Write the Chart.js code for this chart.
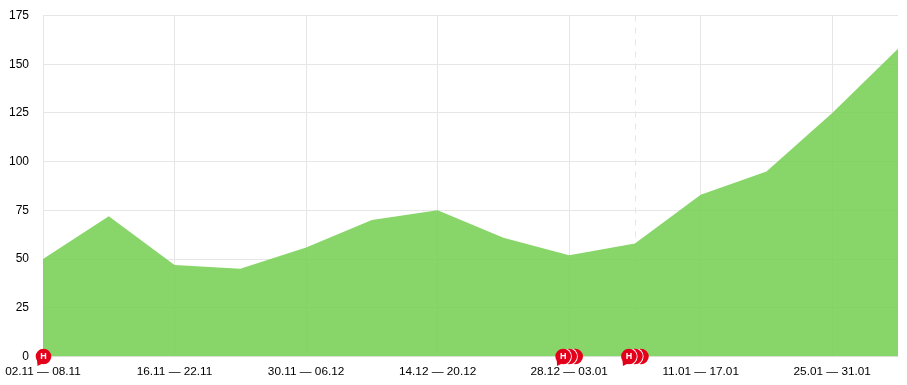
<!DOCTYPE html>
<html>
<head>
<meta charset="utf-8">
<style>
  html, body { margin: 0; padding: 0; background: #fff; }
  #wrap { width: 907px; height: 385px; }
</style>
<script src="https://cdn.jsdelivr.net/npm/chart.js@4"></script>
</head>
<body>
<div id="wrap"><canvas id="chart"></canvas></div>
<script>
const weeks = ['02.11 — 08.11', '09.11 — 15.11', '16.11 — 22.11', '23.11 — 29.11', '30.11 — 06.12',
    '07.12 — 13.12', '14.12 — 20.12', '21.12 — 27.12', '28.12 — 03.01', '04.01 — 10.01',
    '11.01 — 17.01', '18.01 — 24.01', '25.01 — 31.01', '01.02 — 07.02'];
const values = [50, 72, 47, 45, 56, 70, 75, 61, 52, 58, 83, 95, 125, 158];
const yTicks = [0, 25, 50, 75, 100, 125, 150, 175];
// number of red "H" flags stacked on each week
const flagWeeks = [0, 8, 9];
const flagCounts = [1, 3, 3];
const dashedWeek = 9;

const weekLines = {
    id: 'weekLines',
    beforeDatasetsDraw(chart) {
        const { ctx, scales, chartArea } = chart;
        const x = Math.round(scales.x.getPixelForValue(dashedWeek)) + 0.5;
        ctx.save();
        ctx.strokeStyle = '#e6e6e6';
        ctx.lineWidth = 1;
        ctx.setLineDash([6, 6]);
        ctx.beginPath();
        ctx.moveTo(x, chartArea.top);
        ctx.lineTo(x, chartArea.bottom);
        ctx.stroke();
        ctx.restore();
    }
};

const circle = (ctx, x, y, r) => {
    ctx.beginPath();
    ctx.arc(x, y, r, 0, Math.PI * 2);
};

const flags = {
    id: 'flags',
    afterDraw(chart) {
        const { ctx, scales } = chart;
        const y = scales.y.getPixelForValue(0);
        const red = '#e2001a';
        const r = 7.8;
        ctx.save();
        flagWeeks.forEach((week, i) => {
            const count = flagCounts[i];
            const left = scales.x.getPixelForValue(week) + (count > 1 ? -6 : 0.5);
            // back flags first so the lettered one ends up on top
            for (let k = count - 1; k >= 0; k--) {
                const x = left + k * 6;
                if (k < count - 1) {
                    // thin white edge only where it overlaps the flag behind
                    ctx.save();
                    circle(ctx, x + 6, y, r);
                    ctx.clip();
                    circle(ctx, x, y, r + 0.9);
                    ctx.fillStyle = '#fff';
                    ctx.fill();
                    ctx.restore();
                }
                circle(ctx, x, y, r);
                ctx.fillStyle = red;
                ctx.fill();
            }
            // tail and letter on the front flag
            ctx.beginPath();
            ctx.moveTo(left - 6.5, y + 3);
            ctx.lineTo(left - 6, y + 9.5);
            ctx.lineTo(left - 1, y + 7);
            ctx.closePath();
            ctx.fillStyle = red;
            ctx.fill();
            ctx.fillStyle = '#fff';
            ctx.font = 'bold 9px "Liberation Sans"';
            ctx.textAlign = 'center';
            ctx.textBaseline = 'middle';
            ctx.fillText('H', left, y + 0.5);
        });
        ctx.restore();
    }
};

new Chart(document.getElementById('chart').getContext('2d'), {
    type: 'line',
    data: {
        labels: weeks,
        datasets: [{
            data: values,
            fill: true,
            backgroundColor: 'rgba(115, 207, 80, 0.85)',
            borderWidth: 0,
            pointRadius: 0,
            tension: 0
        }]
    },
    options: {
        responsive: true,
        maintainAspectRatio: false,
        animation: false,
        layout: { padding: { top: 15.5, right: 9, bottom: 0, left: 0 } },
        plugins: { legend: { display: false }, tooltip: { enabled: false } },
        scales: {
            x: {
                afterFit(axis) { axis.paddingLeft = 0; axis.paddingRight = 0; axis.height = 28.5; },
                grid: {
                    drawTicks: false,
                    color: (c) => (c.index % 2 === 0 ? '#e6e6e6' : 'rgba(0,0,0,0)')
                },
                border: { color: '#e6e6e6' },
                ticks: {
                    autoSkip: false,
                    maxRotation: 0,
                    padding: 8,
                    color: '#000',
                    font: { family: '"Liberation Sans"', size: 11.8 },
                    callback(value, index) {
                        return index % 2 === 0 && index < weeks.length - 1 ? weeks[index] : '';
                    }
                }
            },
            y: {
                min: 0,
                max: 175,
                afterFit(axis) { axis.width = 43; axis.paddingTop = 0; axis.paddingBottom = 0; },
                afterBuildTicks(axis) { axis.ticks = yTicks.map((value) => ({ value })); },
                grid: { drawTicks: false, color: '#e6e6e6' },
                border: { color: '#e6e6e6' },
                ticks: {
                    padding: 14,
                    color: '#000',
                    font: { family: '"Liberation Sans"', size: 12 }
                }
            }
        }
    },
    plugins: [weekLines, flags]
});
</script>
</body>
</html>
